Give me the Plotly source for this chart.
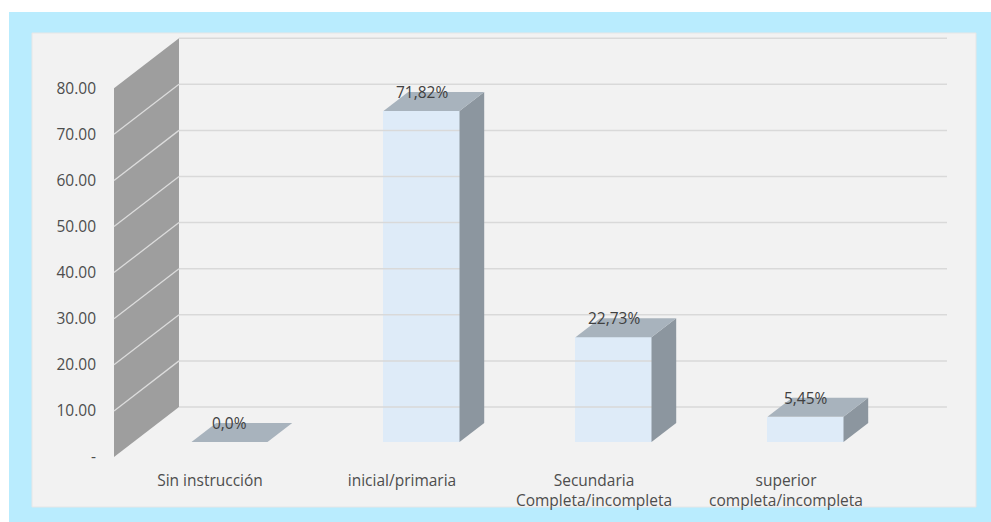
import plotly.graph_objects as go

# Education level shares (%)
categories = ["Sin instrucción", "inicial/primaria",
              "Secundaria<br>Completa/incompleta", "superior<br>completa/incompleta"]
values = [0.0, 71.82, 22.73, 5.45]
decimals = [1, 2, 2, 2]
y_ticks = [0, 10, 20, 30, 40, 50, 60, 70, 80]
y_tick_text = ["-"] + [f"{t:.2f}" for t in y_ticks[1:]]

W, H = 991, 522

# oblique 3-D projection: offset of the full depth (front plane -> back wall) in data units
DX, DY = 0.3385, 10.85
F_DEPTH, B_DEPTH = 0.30, 0.68        # bar front / back depth fractions
BAR_W = 0.396
X_MIN, X_MAX = -0.5, 3.5

FRONT = "#DEEBF8"
TOP = "#A8B3BD"
SIDE = "#8C969F"
WALL = "#9E9E9E"
GRID = "#D9D9D9"
TEXT = "#4D4D4D"
FONT = "Open Sans"
FS = 15.5

fig = go.Figure()

# left side wall
wx = [X_MIN, X_MIN, X_MIN + DX, X_MIN + DX, X_MIN]
wy = [0, y_ticks[-1], y_ticks[-1] + DY, DY, 0]
fig.add_trace(go.Scatter(x=wx, y=wy, fill="toself", fillcolor=WALL, mode="lines",
                         line=dict(width=0), hoverinfo="skip", showlegend=False))

# gridlines on the side wall and the back wall
for t in y_ticks:
    if 0 < t < y_ticks[-1]:
        fig.add_trace(go.Scatter(x=[X_MIN, X_MIN + DX], y=[t, t + DY], mode="lines",
                                 line=dict(color="#DCDCDC", width=1.3),
                                 hoverinfo="skip", showlegend=False))
    fig.add_trace(go.Scatter(x=[X_MIN + DX, X_MAX + DX], y=[t + DY, t + DY], mode="lines",
                             line=dict(color=GRID, width=1.5),
                             hoverinfo="skip", showlegend=False))

d = B_DEPTH - F_DEPTH
base = F_DEPTH * DY
for i, v in enumerate(values):
    xc = i + F_DEPTH * DX
    xl, xr = xc - BAR_W / 2, xc + BAR_W / 2
    top = base + v
    # right side face
    if v > 0:
        fig.add_trace(go.Scatter(
            x=[xr, xr, xr + d * DX, xr + d * DX, xr],
            y=[base, top, top + d * DY, base + d * DY, base],
            fill="toself", fillcolor=SIDE, mode="lines", line=dict(width=0),
            hoverinfo="skip", showlegend=False))
    # top face
    fig.add_trace(go.Scatter(
        x=[xl, xr, xr + d * DX, xl + d * DX, xl],
        y=[top, top, top + d * DY, top + d * DY, top],
        fill="toself", fillcolor=TOP, mode="lines", line=dict(width=0),
        hoverinfo="skip", showlegend=False))

# front faces
fig.add_trace(go.Bar(
    x=[i + F_DEPTH * DX for i in range(len(values))], y=values, base=base,
    width=BAR_W, marker=dict(color=FRONT, line=dict(width=0)),
    hoverinfo="skip", showlegend=False))

# value labels
for i, (v, n) in enumerate(zip(values, decimals)):
    label = f"{v:.{n}f}".replace(".", ",") + "%"
    fig.add_annotation(x=i + F_DEPTH * DX, y=base + v + d * DY, text=label,
                       showarrow=False, font=dict(family=FONT, size=FS, color="#404040"),
                       xanchor="center", yanchor="middle")

# frame: light blue border with grey chart panel
shapes = [
    dict(type="rect", xref="paper", yref="paper", x0=9 / W, x1=1, y0=0, y1=1 - 12 / H,
         fillcolor="#B9ECFE", line=dict(width=0), layer="below"),
    dict(type="rect", xref="paper", yref="paper", x0=32 / W, x1=976 / W,
         y0=1 - 507 / H, y1=1 - 33 / H,
         fillcolor="#F2F2F2", line=dict(color="#E6E6E6", width=1), layer="below"),
]

X0, XU = 210, 192      # px of category 0 on the front plane, px per category
Y0, YU = 457, 4.61     # px of value 0 on the front plane, px per unit

fig.update_layout(
    width=W, height=H,
    margin=dict(l=0, r=0, t=0, b=0),
    paper_bgcolor="white", plot_bgcolor="rgba(0,0,0,0)",
    shapes=shapes, bargap=0,
    font=dict(family=FONT, color=TEXT),
    xaxis=dict(range=[-X0 / XU, (W - X0) / XU], domain=[0, 1],
               tickvals=list(range(len(categories))), ticktext=categories,
               tickfont=dict(family=FONT, size=FS, color=TEXT),
               showgrid=False, zeroline=False, showline=False, ticks="",
               anchor="free", position=1 - 469 / H, fixedrange=True),
    yaxis=dict(range=[(Y0 - H) / YU, Y0 / YU], domain=[0, 1],
               tickvals=y_ticks, ticktext=y_tick_text,
               tickfont=dict(family=FONT, size=FS, color=TEXT),
               showgrid=False, zeroline=False, showline=False, ticks="",
               anchor="free", position=96 / W, fixedrange=True),
)

fig.write_html("out.html", config={"displayModeBar": False})
